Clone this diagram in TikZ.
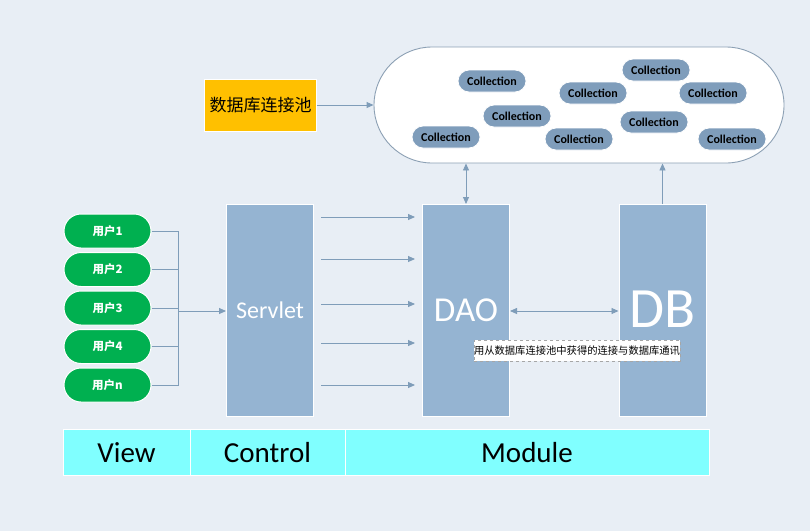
\documentclass[tikz,border=0pt]{standalone}
\usepackage{fontspec}
\setmainfont{Carlito}
\newfontfamily\cjk{Noto Sans CJK SC}
\usetikzlibrary{arrows.meta}
\definecolor{bgc}{RGB}{232,238,245}
\definecolor{boxc}{RGB}{149,180,210}
\definecolor{collc}{RGB}{127,157,187}
\definecolor{greenc}{RGB}{0,176,80}
\definecolor{yellowc}{RGB}{255,192,0}
\definecolor{cyanc}{RGB}{128,255,255}
\definecolor{linec}{RGB}{127,157,185}
\definecolor{poolc}{RGB}{140,160,180}
\begin{document}
\begin{tikzpicture}[x=1pt,y=-1pt,
  conn/.style={draw=linec, line width=0.9pt},
  arr/.style={conn,-{Triangle[length=7pt,width=6pt]}},
  darr/.style={conn,{Triangle[length=7pt,width=6pt]}-{Triangle[length=7pt,width=6pt]}},
  coll/.style={fill=collc, draw=white, line width=0.8pt, rounded corners=11pt,
    minimum width=68pt, minimum height=22pt, inner sep=0pt,
    font=\bfseries\fontsize{12}{12}\selectfont},
  user/.style={fill=greenc, draw=white, line width=1pt, rounded corners=17pt,
    minimum width=87pt, minimum height=34pt, inner sep=0pt, text=white,
    font=\cjk\bfseries\fontsize{11.5}{12}\selectfont},
  tier/.style={fill=boxc, draw=white, line width=1pt, minimum width=87pt,
    minimum height=212pt, inner sep=0pt, text=white},
  cell/.style={fill=cyanc, draw=white, line width=1pt, minimum height=46pt,
    inner sep=0pt, font=\fontsize{29}{29}\selectfont}
]
\fill[bgc] (0,0) rectangle (810,531);
\useasboundingbox (0,0) rectangle (810,531);

% connection pool
\node[draw=poolc, fill=white, line width=0.9pt, rounded corners=58pt,
  minimum width=410pt, minimum height=116pt, inner sep=0pt] (pool) at (579,105) {};
\node[coll] (c1) at (492,81) {Collection};
\node[coll] (c2) at (517,116) {Collection};
\node[coll] (c3) at (446,137) {Collection};
\node[coll] (c4) at (593,93) {Collection};
\node[coll] (c5) at (579,139) {Collection};
\node[coll] (c6) at (656,70) {Collection};
\node[coll] (c7) at (654,122) {Collection};
\node[coll] (c8) at (713,93) {Collection};
\node[coll] (c9) at (732,139) {Collection};

\node[fill=yellowc, draw=white, line width=0.8pt, minimum width=112pt,
  minimum height=52pt, inner sep=0pt, font=\cjk\fontsize{17}{17}\selectfont]
  (ypool) at (260.5,105) {数据库连接池};
\draw[arr] (ypool.east) -- (pool.west);

% users
\node[user] (u1) at (107.5,231) {用户1};
\node[user] (u2) at (107.5,269.5) {用户2};
\node[user] (u3) at (107.5,308) {用户3};
\node[user] (u4) at (107.5,346.5) {用户4};
\node[user] (u5) at (107.5,385) {用户n};
\coordinate (jt) at (178,231);

% tiers
\node[tier, font=\fontsize{24}{24}\selectfont] (servlet) at (270,310) {Servlet};
\node[tier, font=\fontsize{35}{35}\selectfont] (dao) at (466,310.5) {DAO};
\node[tier] (db) at (662.5,310.5) {};
\node[text=white, font=\fontsize{57}{57}\selectfont, inner sep=0pt] (dbt) at (662.5,309) {DB};

\draw[conn] (u1.east) -- (jt) |- (u5.east);
\draw[conn] (u2.east) -- (u2.east -| jt);
\draw[conn] (u3.east) -- (u3.east -| jt);
\draw[conn] (u4.east) -- (u4.east -| jt);
\draw[arr] (jt |- 0,311) -- (servlet.west |- 0,311);

% servlet to dao arrows
\foreach \i/\y in {1/217,2/259,3/304,4/343,5/385}{
  \coordinate (s\i) at (321,\y);
  \coordinate (e\i) at (415,\y);
  \draw[arr] (s\i) -- (e\i);
}

\draw[darr] (dao.east |- 0,311) -- (db.west |- 0,311);
\draw[darr] (dao.north) -- (dao.north |- pool.south);
\draw[arr] (db.north) -- (db.north |- pool.south);

\node[fill=white, draw=gray!70, dashed, line width=0.5pt, minimum width=204pt,
  minimum height=21pt, inner sep=0pt, font=\cjk\fontsize{10.3}{11}\selectfont]
  (lbl) at (577,350.5) {用从数据库连接池中获得的连接与数据库通讯};

% bottom bar
\node[cell, minimum width=127pt] (view) at (126.5,452.5) {View};
\node[cell, minimum width=155pt] (ctrl) at (267.5,452.5) {Control};
\node[cell, minimum width=364pt] (mod) at (527,452.5) {Module};
\end{tikzpicture}
\end{document}
